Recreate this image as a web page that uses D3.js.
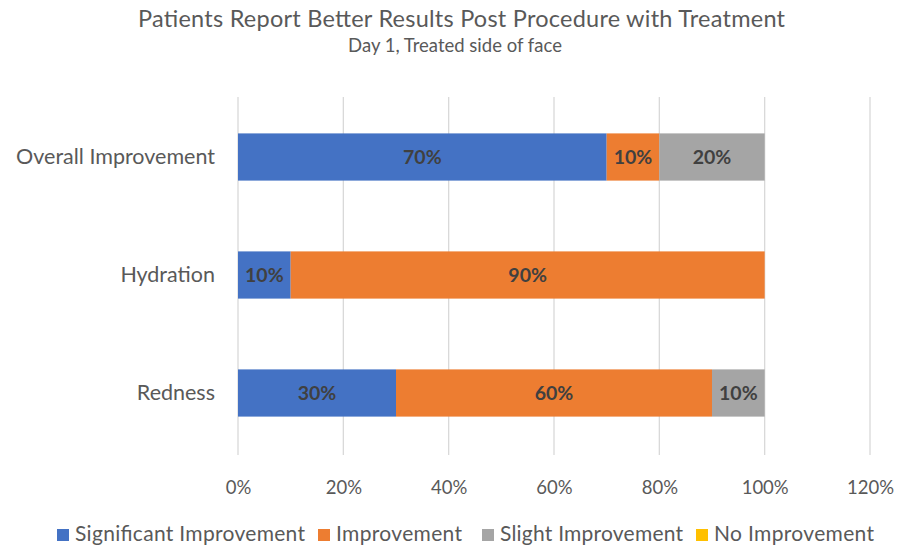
<!DOCTYPE html>
<html><head><meta charset="utf-8">
<script src="https://cdn.jsdelivr.net/npm/d3@7"></script>
<style>body{margin:0;background:#fff}svg{display:block}</style>
</head><body>
<svg id="c" width="909" height="545"></svg>
<script>
const categories = ["Overall Improvement", "Hydration", "Redness"];
const seriesNames = ["Significant Improvement", "Improvement", "Slight Improvement", "No Improvement"];
const significant = [0.70, 0.10, 0.30];
const improvement = [0.10, 0.90, 0.60];
const slight = [0.20, 0.00, 0.10];
const none = [0.00, 0.00, 0.00];
const xTicks = [0, 0.2, 0.4, 0.6, 0.8, 1.0, 1.2];
const colors = ["#4472C4", "#ED7D31", "#A5A5A5", "#FFC000"];

const values = [significant, improvement, slight, none];
const rows = categories.map((c, i) => {
  const r = {cat: c};
  seriesNames.forEach((s, j) => r[s] = values[j][i]);
  return r;
});
const stack = d3.stack().keys(seriesNames)(rows);

const svg = d3.select("#c");
const font = "Lato, 'Open Sans', sans-serif";
const x = d3.scaleLinear().domain([0, 1.2]).range([238, 870]);
const y = d3.scaleBand().domain(categories).range([98, 452]).paddingInner(0.6).paddingOuter(0.3);

// gridlines
svg.append("g").selectAll("line").data(xTicks).join("line")
  .attr("x1", d => x(d)).attr("x2", d => x(d))
  .attr("y1", 97).attr("y2", 455)
  .attr("stroke", "#D9D9D9").attr("stroke-width", 1.3);

// bars
const g = svg.append("g");
stack.forEach((layer, j) => {
  g.selectAll(null).data(layer).join("rect")
    .attr("x", d => x(d[0])).attr("width", d => x(d[1]) - x(d[0]))
    .attr("y", d => y(d.data.cat)).attr("height", y.bandwidth())
    .attr("fill", colors[j]);
  g.selectAll(null).data(layer.filter(d => d[1] - d[0] > 0)).join("text")
    .attr("x", d => (x(d[0]) + x(d[1])) / 2)
    .attr("y", d => y(d.data.cat) + y.bandwidth() / 2)
    .attr("dy", "0.36em").attr("text-anchor", "middle")
    .attr("font-family", font).attr("font-weight", "bold").attr("font-size", 19.5)
    .attr("fill", "#404040")
    .text(d => Math.round((d[1] - d[0]) * 100) + "%");
});

// x axis
const xAxis = d3.axisBottom(x).tickValues(xTicks).tickFormat(d => Math.round(d * 100) + "%").tickSize(0).tickPadding(0);
const xa = svg.append("g").call(xAxis);
xa.select(".domain").remove();
xa.selectAll("text").attr("y", 494).attr("dy", null)
  .attr("font-family", font).attr("font-size", 18.5).attr("fill", "#595959");

// y axis
const yAxis = d3.axisLeft(y).tickSize(0).tickPadding(23);
const ya = svg.append("g").attr("transform", "translate(238,0)").call(yAxis);
ya.select(".domain").remove();
ya.selectAll("text").attr("font-family", font).attr("font-size", 21.5).attr("fill", "#595959");

// title
svg.append("text").attr("x", 138).attr("y", 27)
  .attr("textLength", 647).attr("lengthAdjust", "spacing")
  .attr("font-family", font).attr("font-size", 23.5).attr("fill", "#595959")
  .text("Patients Report Better Results Post Procedure with Treatment");
svg.append("text").attr("x", 455).attr("y", 52).attr("text-anchor", "middle")
  .attr("font-family", font).attr("font-size", 18.5).attr("fill", "#595959")
  .text("Day 1, Treated side of face");

// legend
const legendX = [57, 318, 482, 696];
const legendW = [230, 126, 183, 160];
const lg = svg.append("g");
seriesNames.forEach((s, j) => {
  lg.append("rect").attr("x", legendX[j]).attr("y", 529).attr("width", 12).attr("height", 12).attr("fill", colors[j]);
  lg.append("text").attr("x", legendX[j] + 18).attr("y", 541)
    .attr("textLength", legendW[j]).attr("lengthAdjust", "spacing")
    .attr("font-family", font).attr("font-size", 21).attr("fill", "#595959").text(s);
});
</script>
</body></html>
